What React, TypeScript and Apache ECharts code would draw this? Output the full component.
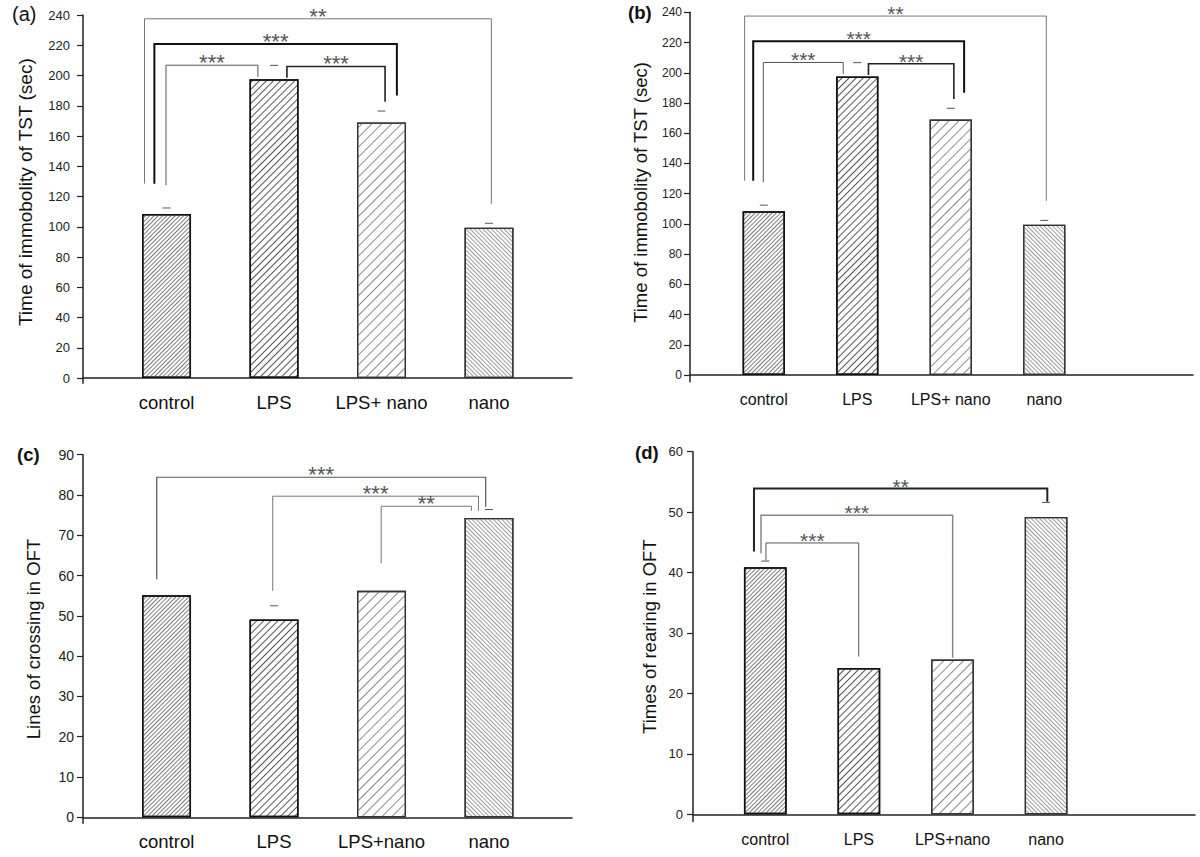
import React, { useEffect, useRef } from 'react';
import * as echarts from 'echarts';

// ---------------- data ----------------
const tstCategories = ['control', 'LPS', 'LPS+ nano', 'nano'];
const oftCategories = ['control', 'LPS', 'LPS+nano', 'nano'];

const tstMean = [108.4, 197.5, 169.0, 99.4];
const tstSem = [4.0, 9.2, 7.5, 2.9];

const crossMean = [55.1, 49.1, 56.2, 74.3];
const crossSem: (number | null)[] = [null, 3.4, null, 2.1];

const rearMean = [40.9, 24.2, 25.6, 49.2];
const rearSem: (number | null)[] = [1.0, null, null, 2.4];

const tstTicks = [0, 20, 40, 60, 80, 100, 120, 140, 160, 180, 200, 220, 240];
const crossTicks = [0, 10, 20, 30, 40, 50, 60, 70, 80, 90];
const rearTicks = [0, 10, 20, 30, 40, 50, 60];

// significance brackets: [label, leftX, rightX, topY, leftFootY, rightFootY] (x = category position 1..4)
const tstBrackets: [string, number, number, number, number, number][] = [
  ['**', 0.795, 4.022, 237.5, 128.5, 115.2],
  ['***', 0.887, 3.143, 220.8, 128.5, 186.7],
  ['***', 0.995, 1.85, 206.8, 127.5, 199.1],
  ['***', 2.12, 3.033, 206.0, 198.5, 182.7],
];
const crossBrackets: [string, number, number, number, number, number][] = [
  ['***', 0.909, 3.969, 84.4, 59.1, 77.1],
  ['***', 1.988, 3.902, 79.7, 56.2, 76.1],
  ['**', 2.997, 3.837, 77.2, 63.0, 76.1],
];
const rearBrackets: [string, number, number, number, number, number][] = [
  ['**', 0.879, 4.013, 53.9, 43.5, 51.7],
  ['***', 0.954, 3.002, 49.5, 43.2, 25.9],
  ['***', 1.007, 1.998, 44.9, 42.0, 26.1],
];

// ---------------- styles ----------------
const FONT = 'Arial, "Liberation Sans", Helvetica, sans-serif';
const AXIS_COLOR = '#222';

const tstBracketStyle = [
  { color: '#777', width: 1 },
  { color: '#111', width: 2 },
  { color: '#555', width: 1 },
  { color: '#222', width: 1.6 },
];
const crossBracketStyle = [
  { color: '#555', width: 1.2 },
  { color: '#777', width: 1 },
  { color: '#777', width: 1 },
];
const rearBracketStyle = [
  { color: '#222', width: 2 },
  { color: '#888', width: 1.5 },
  { color: '#555', width: 1 },
];

const hatch = [
  { rotation: -Math.PI / 4, gap: 2, color: '#7c7c7c', border: '#111', borderWidth: 1.5 },
  { rotation: -Math.PI / 4, gap: 4, color: '#555', border: '#111', borderWidth: 1.5 },
  { rotation: -Math.PI / 4, gap: 6, color: '#8a8a8a', border: '#333', borderWidth: 1.3 },
  { rotation: Math.PI / 4, gap: 2, color: '#9a9a9a', border: '#333', borderWidth: 1.3 },
];

type Panel = {
  grid: { left: number; top: number; width: number; height: number };
  xMin: number; xMax: number; yMin: number; yMax: number;
  ticks: number[]; cats: string[]; mean: number[]; sem: (number | null)[];
  brackets: [string, number, number, number, number, number][];
  bracketStyle: { color: string; width: number }[];
  barWidth: number; yName: string; nameGap: number; nameSize: number; namePad: number;
  tickSize: number; tickMargin: number; xLabelSize: number; xLabelMargin: number;
  starSize: number;
};

const panels: Panel[] = [
  {
    grid: { left: 83, top: 15, width: 489, height: 368.3 },
    xMin: 0.223, xMax: 4.772, yMin: -3.5, yMax: 240,
    ticks: tstTicks, cats: tstCategories, mean: tstMean, sem: tstSem,
    brackets: tstBrackets, bracketStyle: tstBracketStyle, barWidth: 49,
    yName: 'Time of immobolity of TST (sec)', nameGap: 48.5, nameSize: 19, namePad: 14,
    tickSize: 13, tickMargin: 13, xLabelSize: 18.5, xLabelMargin: 9.5, starSize: 22,
  },
  {
    grid: { left: 690, top: 12.3, width: 503, height: 369.35 },
    xMin: 0.211, xMax: 5.591, yMin: -4.4, yMax: 240,
    ticks: tstTicks, cats: tstCategories, mean: tstMean, sem: tstSem,
    brackets: tstBrackets, bracketStyle: tstBracketStyle, barWidth: 42.3,
    yName: 'Time of immobolity of TST (sec)', nameGap: 40, nameSize: 18.5, namePad: 9,
    tickSize: 12, tickMargin: 8, xLabelSize: 16, xLabelMargin: 10, starSize: 21,
  },
  {
    grid: { left: 83, top: 454.7, width: 489, height: 368.6 },
    xMin: 0.223, xMax: 4.772, yMin: -1.5, yMax: 90,
    ticks: crossTicks, cats: oftCategories, mean: crossMean, sem: crossSem,
    brackets: crossBrackets, bracketStyle: crossBracketStyle, barWidth: 49,
    yName: 'Lines of crossing in OFT', nameGap: 40, nameSize: 18.5, namePad: 0,
    tickSize: 14, tickMargin: 9, xLabelSize: 18.5, xLabelMargin: 8.5, starSize: 22,
  },
  {
    grid: { left: 693, top: 451.7, width: 502, height: 369.85 },
    xMin: 0.2276, xMax: 5.591, yMin: -1.2, yMax: 60,
    ticks: rearTicks, cats: oftCategories, mean: rearMean, sem: rearSem,
    brackets: rearBrackets, bracketStyle: rearBracketStyle, barWidth: 42.7,
    yName: 'Times of rearing in OFT', nameGap: 34, nameSize: 18.5, namePad: 0,
    tickSize: 13, tickMargin: 10, xLabelSize: 16, xLabelMargin: 9.5, starSize: 21,
  },
];

const panelLetters = [
  { text: '(a)', x: 12, y: 16, bold: false, size: 20 },
  { text: '(b)', x: 628, y: 14, bold: true, size: 18.5 },
  { text: '(c)', x: 17, y: 456, bold: true, size: 18.5 },
  { text: '(d)', x: 635, y: 454, bold: true, size: 18.5 },
];

function buildOption() {
  const grid: any[] = [];
  const xAxis: any[] = [];
  const yAxis: any[] = [];
  const series: any[] = [];

  panels.forEach((p, gi) => {
    grid.push({ ...p.grid, containLabel: false });
    xAxis.push({
      type: 'value', gridIndex: gi, min: p.xMin, max: p.xMax,
      axisLine: { show: true, onZero: true, lineStyle: { color: AXIS_COLOR, width: 1.5 } },
      axisTick: { show: false },
      splitLine: { show: false },
      axisLabel: {
        customValues: p.cats.map((_, i) => i + 1),
        formatter: (v: number) => p.cats[Math.round(v) - 1] ?? '',
        fontSize: p.xLabelSize, fontFamily: FONT, color: '#111', margin: p.xLabelMargin,
      },
    });
    yAxis.push({
      type: 'value', gridIndex: gi, min: p.yMin, max: p.yMax,
      axisLine: { show: true, onZero: false, lineStyle: { color: AXIS_COLOR, width: 1.5 } },
      axisTick: { show: true, length: 6, customValues: p.ticks, lineStyle: { color: AXIS_COLOR, width: 1.2 } },
      splitLine: { show: false },
      axisLabel: {
        customValues: p.ticks, fontSize: p.tickSize, fontFamily: FONT, color: '#222', margin: p.tickMargin,
      },
      name: p.yName, nameLocation: 'middle', nameRotate: 90, nameGap: p.nameGap,
      nameTextStyle: { fontSize: p.nameSize, fontFamily: FONT, color: '#111', padding: [0, 0, 0, p.namePad] },
    });

    series.push({
      type: 'bar', xAxisIndex: gi, yAxisIndex: gi, barWidth: p.barWidth, silent: true,
      data: p.mean.map((v, i) => ({
        value: [i + 1, v],
        itemStyle: {
          color: '#ffffff',
          borderColor: hatch[i].border,
          borderWidth: hatch[i].borderWidth,
          decal: {
            symbol: 'rect', symbolSize: 1,
            dashArrayX: [1, 0], dashArrayY: [1, hatch[i].gap],
            rotation: hatch[i].rotation, color: hatch[i].color,
          },
        },
      })),
    });

    const caps = p.sem
      .map((s, i) => (s == null ? null : [i + 1, p.mean[i] + s]))
      .filter((d) => d != null);
    series.push({
      type: 'custom', xAxisIndex: gi, yAxisIndex: gi, silent: true, clip: false,
      data: caps,
      renderItem: (_params: any, api: any) => {
        const pt = api.coord([api.value(0), api.value(1)]);
        return {
          type: 'line',
          shape: { x1: pt[0] - 4, y1: pt[1], x2: pt[0] + 4, y2: pt[1] },
          style: { stroke: '#555', lineWidth: 1 },
        };
      },
    });

    series.push({
      type: 'custom', xAxisIndex: gi, yAxisIndex: gi, silent: true, clip: false,
      encode: { x: [0, 1], y: [2, 3, 4] },
      data: p.brackets.map((b) => [b[1], b[2], b[3], b[4], b[5]]),
      renderItem: (params: any, api: any) => {
        const x1 = api.value(0), x2 = api.value(1), top = api.value(2);
        const f1 = api.value(3), f2 = api.value(4);
        const a = api.coord([x1, f1]);
        const b = api.coord([x1, top]);
        const c = api.coord([x2, top]);
        const d = api.coord([x2, f2]);
        const st = p.bracketStyle[params.dataIndex];
        return {
          type: 'group',
          children: [
            {
              type: 'polyline',
              shape: { points: [a, b, c, d] },
              style: { stroke: st.color, lineWidth: st.width, fill: 'none' },
            },
            {
              type: 'text',
              x: (b[0] + c[0]) / 2,
              y: b[1] - 2.5,
              style: {
                text: p.brackets[params.dataIndex][0],
                fontSize: p.starSize, fontFamily: FONT, fill: '#555',
                align: 'center', verticalAlign: 'middle',
              },
            },
          ],
        };
      },
    });
  });

  return {
    animation: false,
    backgroundColor: '#ffffff',
    grid, xAxis, yAxis, series,
    graphic: panelLetters.map((l) => ({
      type: 'text', left: l.x, top: l.y - l.size * 0.6,
      style: {
        text: l.text, fontSize: l.size, fontWeight: l.bold ? 'bold' : 'normal',
        fontFamily: FONT, fill: '#111',
      },
    })),
  };
}

export default function App() {
  const ref = useRef<HTMLDivElement>(null);
  useEffect(() => {
    document.body.style.margin = '0';
    if (!ref.current) return;
    const chart = echarts.init(ref.current, undefined, { renderer: 'svg' });
    chart.setOption(buildOption() as any);
    return () => chart.dispose();
  }, []);
  return (
    <div
      ref={ref}
      style={{ position: 'absolute', left: 0, top: 0, width: 1200, height: 857, background: '#fff' }}
    />
  );
}
